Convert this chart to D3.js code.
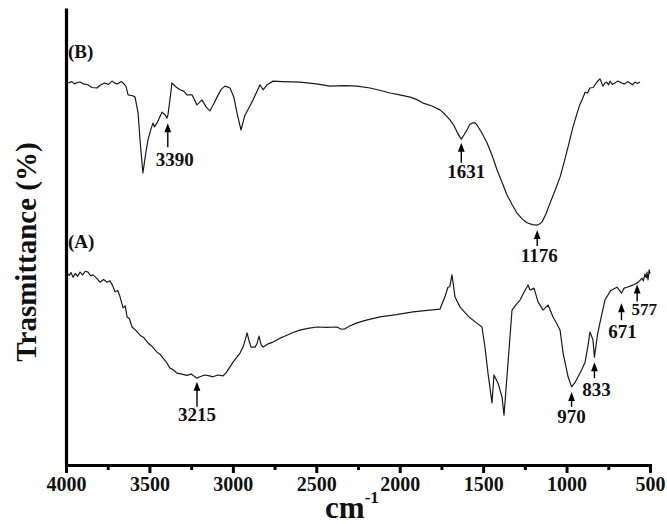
<!DOCTYPE html>
<html>
<head>
<meta charset="utf-8">
<script src="https://cdn.jsdelivr.net/npm/d3@7"></script>
<style>
  body { margin: 0; background: #fff; }
  text { font-family: "Liberation Serif", "Times New Roman", serif; font-weight: bold; fill: #111; }
</style>
</head>
<body>
<div id="chart"></div>
<script>
// FTIR spectra (A) and (B), transmittance in arbitrary % units

// curve (B): wavenumber (cm-1) and transmittance
const waveB = [3990, 3965, 3950, 3930, 3916, 3895, 3870, 3845, 3814, 3795, 3770, 3745, 3724, 3705, 3690, 3670, 3658,
  3640, 3628, 3600, 3586, 3568, 3555, 3539, 3525, 3509, 3490, 3479, 3470, 3455, 3440, 3425, 3405, 3395, 3389, 3375,
  3365, 3340, 3317, 3295, 3275, 3245, 3215, 3185, 3160, 3137, 3115, 3095, 3070, 3047, 3017, 2995, 2975, 2951, 2927,
  2900, 2879, 2855, 2837, 2819, 2795, 2759, 2700, 2598, 2500, 2418, 2330, 2256, 2178, 2120, 2058, 2000, 1938, 1900,
  1860, 1810, 1759, 1730, 1699, 1675, 1657, 1640, 1631, 1615, 1597, 1580, 1567, 1550, 1537, 1510, 1477, 1445, 1417,
  1385, 1357, 1325, 1297, 1265, 1237, 1205, 1176, 1160, 1147, 1125, 1099, 1070, 1039, 1015, 991, 965, 937, 920, 907,
  895, 889, 875, 860, 840, 818, 800, 782, 770, 760, 748, 740, 725, 710, 695, 680, 665, 650, 635, 620, 605, 590, 575, 560];
const transB = [83.6, 83.9, 83.4, 83.7, 83.8, 83.4, 83.2, 82.6, 82.5, 83.1, 83.6, 83.3, 84.0, 83.5, 83.4, 83.9, 83.6,
  82.8, 81.0, 80.8, 80.5, 77.0, 70.5, 63.9, 67.5, 71.1, 73.6, 74.8, 74.0, 74.8, 76.0, 77.2, 76.6, 75.9, 76.6, 80.5,
  83.6, 82.7, 82.1, 81.8, 81.0, 81.0, 78.8, 79.9, 78.3, 77.5, 79.0, 80.5, 82.2, 82.9, 82.5, 80.6, 77.0, 73.3, 76.6,
  78.4, 79.9, 81.8, 83.2, 82.1, 83.2, 84.0, 83.9, 83.8, 83.4, 82.9, 83.0, 82.9, 82.5, 82.0, 81.4, 81.0, 80.5, 80.0,
  79.2, 78.6, 77.7, 76.8, 75.5, 74.3, 72.9, 71.8, 71.3, 72.2, 73.3, 74.5, 74.8, 74.9, 74.4, 72.8, 70.5, 67.6, 64.6,
  61.7, 59.1, 56.9, 55.1, 53.8, 53.0, 52.6, 52.5, 52.8, 53.2, 54.8, 57.3, 60.0, 63.0, 66.2, 69.6, 73.5, 77.0, 78.9, 79.9,
  81.0, 81.6, 81.4, 82.5, 82.6, 83.8, 84.5, 82.9, 83.6, 83.8, 83.2, 84.0, 83.3, 83.6, 84.0, 83.8, 83.5, 83.4, 83.9, 83.6,
  83.2, 83.8, 83.5, 83.8];

// curve (A)
const waveA = [3994, 3980, 3970, 3958, 3945, 3930, 3916, 3900, 3885, 3868, 3852, 3838, 3820, 3796, 3775, 3754, 3736,
  3720, 3706, 3690, 3676, 3658, 3645, 3634, 3620, 3604, 3580, 3556, 3535, 3509, 3485, 3455, 3435, 3419, 3400, 3377,
  3355, 3335, 3305, 3275, 3250, 3215, 3197, 3170, 3140, 3119, 3090, 3059, 3040, 3029, 2999, 2975, 2957, 2939, 2925,
  2915, 2903, 2891, 2867, 2855, 2843, 2831, 2819, 2790, 2759, 2720, 2676, 2640, 2598, 2550, 2496, 2440, 2376, 2350,
  2328, 2300, 2256, 2200, 2118, 2020, 1920, 1850, 1759, 1745, 1729, 1711, 1700, 1687, 1678, 1669, 1639, 1610, 1579,
  1540, 1507, 1489, 1471, 1447, 1435, 1411, 1387, 1375, 1351, 1327, 1300, 1279, 1255, 1231, 1219, 1195, 1171, 1141,
  1111, 1081, 1060, 1039, 1021, 991, 970, 950, 931, 910, 889, 872, 860, 842, 833, 815, 800, 770, 735, 698, 685, 671,
  655, 638, 615, 595, 577, 565, 548, 540, 530, 522, 518, 512, 505, 500];
const transA = [42.0, 41.5, 42.1, 41.1, 41.9, 41.3, 42.2, 41.6, 42.4, 42.2, 41.4, 41.6, 41.0, 40.0, 40.6, 40.0, 40.3,
  39.2, 37.9, 38.2, 36.8, 34.4, 34.8, 32.4, 32.0, 30.2, 29.4, 28.4, 27.9, 26.7, 26.0, 24.7, 24.2, 23.4, 22.6, 21.2,
  20.8, 20.1, 19.9, 19.6, 19.9, 19.0, 19.3, 19.7, 19.5, 19.3, 19.7, 19.5, 20.2, 20.8, 22.5, 23.6, 24.5, 25.8, 27.5,
  28.9, 27.2, 25.8, 25.8, 26.6, 28.2, 26.4, 25.8, 26.5, 26.9, 27.7, 28.4, 29.0, 29.5, 29.9, 30.2, 30.1, 30.2, 29.7,
  29.8, 30.4, 31.1, 31.7, 32.4, 32.9, 33.5, 33.8, 34.1, 35.4, 36.8, 38.9, 39.0, 41.6, 39.3, 36.8, 34.6, 33.4, 32.2,
  31.1, 30.2, 25.8, 20.1, 13.6, 19.7, 17.9, 14.9, 10.9, 22.3, 33.9, 35.2, 36.1, 37.8, 39.4, 38.3, 38.7, 35.7, 33.9,
  35.0, 32.4, 31.0, 29.5, 24.5, 19.3, 17.1, 18.0, 19.3, 20.8, 22.5, 26.0, 29.1, 27.4, 23.6, 28.5, 31.1, 36.1, 38.2,
  38.9, 38.3, 37.6, 38.7, 38.9, 39.2, 39.5, 39.8, 40.2, 40.9, 40.3, 41.8, 41.0, 42.2, 40.5, 42.7, 41.9];

// x axis ticks
const majorTicks = [4000, 3500, 3000, 2500, 2000, 1500, 1000, 500];
const minorTicks = [3750, 3250, 2750, 2250, 1750, 1250, 750];

// peak annotations: wavenumber, arrow tip (transmittance)
const peakLabels = ["3390", "1631", "1176", "3215", "970", "833", "671", "577"];
const peakWave = [3390, 1631, 1176, 3215, 970, 833, 671, 577];
const peakTip = [74.8, 70.5, 51.4, 18.2, 16.0, 22.5, 35.4, 39.5];

const curveNames = ["(B)", "(A)"];
const curveNameY = [89, 47.5];

const W = 667, H = 524;
const margin = { top: 8, right: 17, bottom: 59, left: 66 };

const svg = d3.select("#chart").append("svg")
  .attr("width", W)
  .attr("height", H);

const x = d3.scaleLinear()
  .domain([4000, 500])
  .range([margin.left, W - margin.right]);

const y = d3.scaleLinear()
  .domain([0, 100])
  .range([H - margin.bottom, margin.top]);

const line = d3.line()
  .x(d => x(d[0]))
  .y(d => y(d[1]));

const dataB = waveB.map((w, i) => [w, transB[i]]);
const dataA = waveA.map((w, i) => [w, transA[i]]);

[dataB, dataA].forEach(d => {
  svg.append("path")
    .datum(d)
    .attr("d", line)
    .attr("fill", "none")
    .attr("stroke", "#1a1a1a")
    .attr("stroke-width", 1.2)
    .attr("stroke-linejoin", "round");
});

// minor ticks
svg.append("g")
  .attr("transform", `translate(0,${H - margin.bottom})`)
  .call(d3.axisBottom(x).tickValues(minorTicks).tickSize(5).tickSizeOuter(0).tickFormat(""))
  .call(g => g.select(".domain").remove())
  .call(g => g.selectAll("line").attr("stroke", "#000").attr("stroke-width", 3));

// bottom axis
svg.append("g")
  .attr("transform", `translate(0,${H - margin.bottom})`)
  .call(d3.axisBottom(x).tickValues(majorTicks).tickSize(8).tickSizeOuter(0).tickPadding(4).tickFormat(d3.format("d")))
  .call(g => g.select(".domain").attr("stroke", "#000").attr("stroke-width", 3).attr("stroke-linecap", "square"))
  .call(g => g.selectAll("line").attr("stroke", "#000").attr("stroke-width", 3))
  .call(g => g.selectAll("text")
    .style("font-family", "'Liberation Serif', serif")
    .style("font-weight", "bold")
    .style("font-size", "20px")
    .attr("fill", "#111"));

// left axis (no ticks)
svg.append("g")
  .attr("transform", `translate(${margin.left},0)`)
  .call(d3.axisLeft(y).tickValues([]).tickSizeOuter(0))
  .call(g => g.select(".domain").attr("stroke", "#000").attr("stroke-width", 3.2));

// peak arrows + labels
const arrowLen = [24, 20, 16, 25, 15, 16, 17, 17];
const labelDx = [7, 5, 2, 0, 0, 2, 1, 7];
const labelGap = [19, 15, 16, 14, 16, 18, 18, 14];
const labelSize = [19, 19, 19, 19, 19, 19, 19, 17];

peakWave.forEach((w, i) => {
  const px = x(w), tip = y(peakTip[i]);
  const g = svg.append("g");
  g.append("line")
    .attr("x1", px).attr("x2", px)
    .attr("y1", tip + 6).attr("y2", tip + arrowLen[i])
    .attr("stroke", "#000").attr("stroke-width", 1.4);
  g.append("path")
    .attr("d", `M${px},${tip} L${px - 3.4},${tip + 9} L${px + 3.4},${tip + 9} Z`)
    .attr("fill", "#000");
  g.append("text")
    .attr("x", px + labelDx[i])
    .attr("y", tip + arrowLen[i] + labelGap[i])
    .attr("text-anchor", "middle")
    .style("font-size", labelSize[i] + "px")
    .text(peakLabels[i]);
});

// curve names
curveNames.forEach((n, i) => {
  svg.append("text")
    .attr("x", margin.left + 2)
    .attr("y", y(curveNameY[i]))
    .style("font-size", "19px")
    .text(n);
});

// axis titles
svg.append("text")
  .attr("transform", `translate(36,252) rotate(-90)`)
  .attr("text-anchor", "middle")
  .style("font-size", "29px")
  .text("Trasmittance (%)");

const xt = svg.append("text")
  .attr("x", 352)
  .attr("y", 518)
  .attr("text-anchor", "middle")
  .style("font-size", "31px");
xt.append("tspan").text("cm");
xt.append("tspan")
  .attr("dy", -15)
  .style("font-size", "17px")
  .text("-1");
</script>
</body>
</html>
